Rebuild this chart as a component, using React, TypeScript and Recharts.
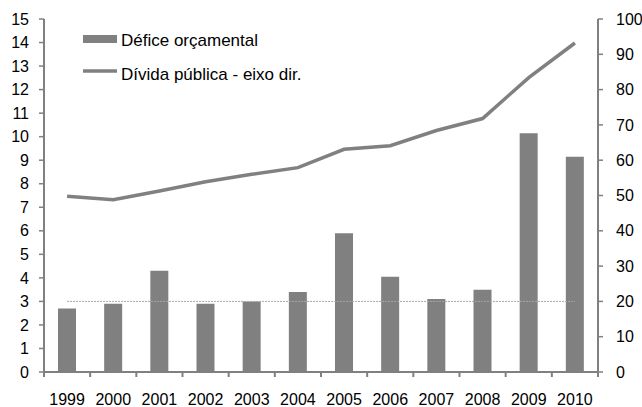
import { ComposedChart, Bar, Line, XAxis, YAxis } from 'recharts';

const years = ['1999', '2000', '2001', '2002', '2003', '2004', '2005', '2006', '2007', '2008', '2009', '2010'];
const defice = [2.7, 2.9, 4.3, 2.9, 3.0, 3.4, 5.9, 4.05, 3.1, 3.5, 10.15, 9.15];
const divida = [49.8, 48.8, 51.3, 53.9, 56.0, 57.9, 63.1, 64.1, 68.4, 71.8, 83.4, 93.2];
// limite de 3% do PIB
const limite = [3, 3, 3, 3, 3, 3, 3, 3, 3, 3, 3, 3];
const leftTicks = [0, 1, 2, 3, 4, 5, 6, 7, 8, 9, 10, 11, 12, 13, 14, 15];
const rightTicks = [0, 10, 20, 30, 40, 50, 60, 70, 80, 90, 100];

const data = years.map((year, i) => ({ year, defice: defice[i], divida: divida[i], limite: limite[i] }));

const W = 642;
const H = 407;
const AXIS_W = 44;
const BAND = (W - 2 * AXIS_W) / years.length;
const GRAY = '#808080';
const FONT = 'Liberation Sans, Arial, sans-serif';

function YearTick(props: any) {
  const { x, y, payload, index } = props;
  const left = x - BAND / 2;
  const right = x + BAND / 2;
  return (
    <g>
      <line x1={left} x2={left} y1={y} y2={y + 5} stroke={GRAY} strokeWidth={2} />
      {index === years.length - 1 && (
        <line x1={right} x2={right} y1={y} y2={y + 5} stroke={GRAY} strokeWidth={2} />
      )}
      <text x={x} y={y + 22} dy="0.71em" textAnchor="middle" fontSize={16} fill="#000">
        {payload.value}
      </text>
    </g>
  );
}

function LegendBox() {
  return (
    <svg width={240} height={60} style={{ fontFamily: FONT, fontSize: 17, display: 'block' }}>
      <rect x={0} y={5} width={34} height={8} fill={GRAY} />
      <text x={38} y={16} fill="#000">Défice orçamental</text>
      <line x1={0} y1={41} x2={34} y2={41} stroke={GRAY} strokeWidth={3.5} />
      <text x={38} y={50} fill="#000">Dívida pública - eixo dir.</text>
    </svg>
  );
}

export default function App() {
  return (
    <div style={{ position: 'fixed', left: 0, top: 0, width: W, height: H, background: '#fff' }}>
      <ComposedChart
        width={W}
        height={H}
        data={data}
        margin={{ top: 19, right: 0, left: 0, bottom: 0 }}
        style={{ fontFamily: FONT }}
      >
        <XAxis
          dataKey="year"
          height={35}
          axisLine={{ stroke: GRAY, strokeWidth: 2 }}
          tickLine={false}
          tickSize={0}
          tickMargin={0}
          tick={<YearTick />}
          interval={0}
        />
        <YAxis
          yAxisId="left"
          domain={[0, 15]}
          ticks={leftTicks}
          width={AXIS_W}
          axisLine={{ stroke: GRAY, strokeWidth: 2 }}
          tickLine={{ stroke: GRAY, strokeWidth: 1.5 }}
          tickSize={5}
          tickMargin={10}
          tick={{ fontSize: 16, fill: '#000' }}
          interval={0}
        />
        <YAxis
          yAxisId="right"
          orientation="right"
          domain={[0, 100]}
          ticks={rightTicks}
          width={AXIS_W}
          axisLine={{ stroke: GRAY, strokeWidth: 2 }}
          tickLine={{ stroke: GRAY, strokeWidth: 1.5 }}
          tickSize={5}
          tickMargin={13}
          tick={{ fontSize: 16, fill: '#000' }}
          interval={0}
        />
        <Line
          yAxisId="left"
          dataKey="limite"
          type="linear"
          stroke="#a6a6a6"
          strokeWidth={1}
          strokeDasharray="2 1"
          dot={false}
          activeDot={false}
          isAnimationActive={false}
        />
        <Bar yAxisId="left" dataKey="defice" fill={GRAY} barSize={18} isAnimationActive={false} />
        <Line
          yAxisId="right"
          dataKey="divida"
          type="linear"
          stroke={GRAY}
          strokeWidth={3.5}
          dot={false}
          activeDot={false}
          isAnimationActive={false}
        />
      </ComposedChart>
      <div style={{ position: 'absolute', left: 83, top: 30 }}>
        <LegendBox />
      </div>
    </div>
  );
}
